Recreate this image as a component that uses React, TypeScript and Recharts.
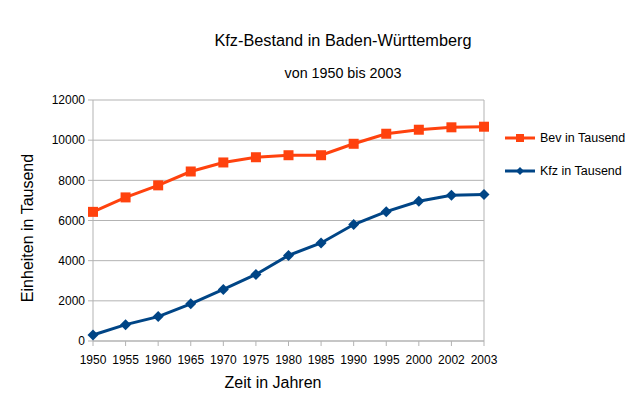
import React from 'react';
import { LineChart, Line, XAxis, YAxis, CartesianGrid, Legend, ReferenceLine } from 'recharts';

const years = ['1950', '1955', '1960', '1965', '1970', '1975', '1980', '1985', '1990', '1995', '2000', '2002', '2003'];
const bevInTausend = [6430, 7150, 7750, 8440, 8890, 9150, 9250, 9250, 9820, 10320, 10520, 10640, 10670];
const kfzInTausend = [300, 815, 1215, 1850, 2565, 3315, 4260, 4880, 5800, 6440, 6960, 7260, 7300];
const yTicks = [0, 2000, 4000, 6000, 8000, 10000, 12000];

const data = years.map((y, i) => ({ year: y, bev: bevInTausend[i], kfz: kfzInTausend[i] }));

const BEV = '#ff420e';
const KFZ = '#004586';
const FONT = '"Liberation Sans", Arial, sans-serif';
const GRID = '#b3b3b3';

const SquareDot = (props: any) => {
  const { cx, cy, index } = props;
  if (cx == null || cy == null) return null;
  return <rect key={`s${index}`} x={cx - 5} y={cy - 5} width={10} height={10} fill={BEV} />;
};

const DiamondDot = (props: any) => {
  const { cx, cy, index } = props;
  if (cx == null || cy == null) return null;
  const r = 5.5;
  return <path key={`d${index}`} d={`M${cx},${cy - r}L${cx + r},${cy}L${cx},${cy + r}L${cx - r},${cy}Z`} fill={KFZ} />;
};

const LegendContent = (props: any) => {
  const payload = props.payload || [];
  const order = ['bev', 'kfz'];
  const items = order.map((k) => payload.find((p: any) => p.dataKey === k)).filter(Boolean);
  return (
    <svg width={140} height={60} style={{ display: 'block' }}>
      {items.map((it: any, i: number) => {
        const y = 13 + i * 33;
        const c = it.color;
        return (
          <g key={it.dataKey}>
            <line x1={5} x2={35} y1={y} y2={y} stroke={c} strokeWidth={3} />
            {it.dataKey === 'bev' ? (
              <rect x={16} y={y - 4} width={8} height={8} fill={c} />
            ) : (
              <path d={`M20,${y - 4}L24,${y}L20,${y + 4}L16,${y}Z`} fill={c} />
            )}
            <text x={40} y={y} dy="0.35em" fontSize={12.5} fontFamily={FONT} fill="#000">
              {it.value}
            </text>
          </g>
        );
      })}
    </svg>
  );
};

export default function App() {
  return (
    <div style={{ position: 'absolute', left: 0, top: 0, width: 643, height: 399, background: '#fff', fontFamily: FONT }}>
      <div style={{ position: 'absolute', left: 143, width: 400, top: 30, textAlign: 'center', fontSize: 16.3, lineHeight: '20px', color: '#000' }}>
        Kfz-Bestand in Baden-Württemberg
      </div>
      <div style={{ position: 'absolute', left: 193, width: 300, top: 64, textAlign: 'center', fontSize: 14.3, lineHeight: '18px', color: '#000' }}>
        von 1950 bis 2003
      </div>
      <LineChart width={643} height={399} data={data} margin={{ top: 100, right: 159, bottom: 28, left: 33 }}>
        <CartesianGrid vertical={false} stroke={GRID} strokeWidth={1} />
        <XAxis
          dataKey="year"
          interval={0}
          tickLine={{ stroke: GRID }}
          tickSize={5}
          axisLine={{ stroke: GRID }}
          height={30}
          tickMargin={9}
          tick={{ fontSize: 12, fontFamily: FONT, fill: '#000' }}
        />
        <YAxis
          width={60}
          domain={[0, 12000]}
          ticks={yTicks}
          tickLine={{ stroke: GRID }}
          tickSize={5}
          tickMargin={3}
          axisLine={{ stroke: GRID }}
          tick={{ fontSize: 12, fontFamily: FONT, fill: '#000' }}
        />
        <ReferenceLine x="2003" stroke={GRID} />
        <Legend
          layout="horizontal"
          verticalAlign="middle"
          align="center"
          content={<LegendContent />}
          wrapperStyle={{ left: 500, top: 125, width: 140, height: 60 }}
        />
        <Line
          type="linear"
          dataKey="bev"
          name="Bev in Tausend"
          stroke={BEV}
          strokeWidth={3}
          dot={<SquareDot />}
          activeDot={false}
          isAnimationActive={false}
        />
        <Line
          type="linear"
          dataKey="kfz"
          name="Kfz in Tausend"
          stroke={KFZ}
          strokeWidth={3}
          dot={<DiamondDot />}
          activeDot={false}
          isAnimationActive={false}
        />
      </LineChart>
      <div style={{ position: 'absolute', left: 173, width: 200, top: 373, textAlign: 'center', fontSize: 16, lineHeight: '20px', color: '#000' }}>
        Zeit in Jahren
      </div>
      <div
        style={{
          position: 'absolute',
          left: 28 - 100,
          width: 200,
          top: 228 - 10,
          textAlign: 'center',
          fontSize: 16,
          lineHeight: '20px',
          color: '#000',
          transform: 'rotate(-90deg)',
          transformOrigin: '50% 50%',
        }}
      >
        Einheiten in Tausend
      </div>
    </div>
  );
}
